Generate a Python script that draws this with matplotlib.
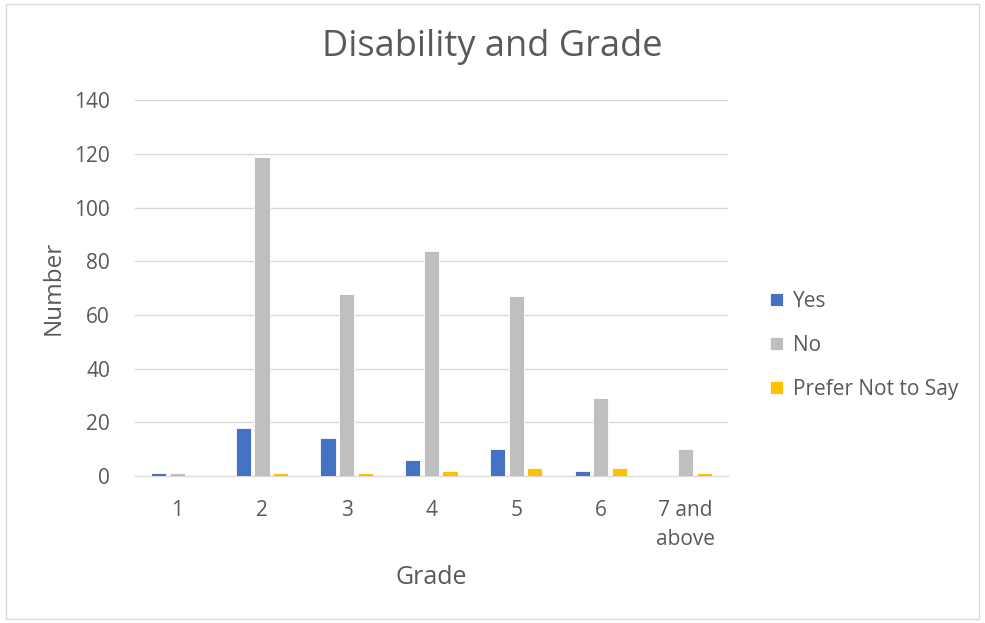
import numpy as np
import matplotlib.pyplot as plt
from matplotlib.patches import Rectangle

# Daten aus dem Diagramm
grades = ["1", "2", "3", "4", "5", "6", "7 and\nabove"]
yes = [1, 18, 14, 6, 10, 2, 0]
no = [1, 119, 68, 84, 67, 29, 10]
prefer_not = [0, 1, 1, 2, 3, 3, 1]

plt.rcParams['font.family'] = ['Open Sans', 'DejaVu Sans']
txt = '#595959'

fig = plt.figure(figsize=(9.85, 6.23), dpi=100)
ax = fig.add_axes([0.137, 0.236, 0.602, 0.603])

# Rahmen um die ganze Grafik
fig.patches.append(Rectangle((0.006, 0.006), 0.988, 0.988, transform=fig.transFigure,
                             fill=False, edgecolor='#d9d9d9', linewidth=1))

x = np.arange(len(grades))
w = 0.18
step = 0.22
ax.bar(x - step, yes, w, color='#4472c4', edgecolor='white', linewidth=0.6, label='Yes', zorder=3)
ax.bar(x, no, w, color='#bfbfbf', edgecolor='white', linewidth=0.6, label='No', zorder=3)
ax.bar(x + step, prefer_not, w, color='#ffc000', edgecolor='white', linewidth=0.6,
       label='Prefer Not to Say', zorder=3)

ax.set_xlim(-0.5, len(grades) - 0.5)
ax.set_ylim(0, 140)
ax.set_yticks(range(0, 141, 20))
ax.set_xticks(x)
ax.set_xticklabels(grades, linespacing=1.5)
ax.grid(axis='y', color='#d9d9d9', linewidth=1, zorder=0)
for s in ['top', 'right', 'left']:
    ax.spines[s].set_visible(False)
ax.spines['bottom'].set_color('#d9d9d9')
ax.tick_params(length=0, labelsize=15, colors=txt)
ax.tick_params(axis='y', pad=18)
ax.tick_params(axis='x', pad=17)

# Titel über der ganzen Grafik zentriert
fig.text(0.5, 1 - 47 / 623, 'Disability and Grade', fontsize=26, color=txt,
         ha='center', va='center')
ax.set_xlabel('Grade', fontsize=18, color=txt, labelpad=11)
ax.set_ylabel('Number', fontsize=17.5, color=txt, labelpad=6)

ax.legend(loc='center left', bbox_to_anchor=(1.04, 0.348), frameon=False, fontsize=15,
          labelcolor=txt, handlelength=0.6, handleheight=0.6, labelspacing=1.1, handletextpad=0.5)

fig.savefig('out.png', dpi=100)
